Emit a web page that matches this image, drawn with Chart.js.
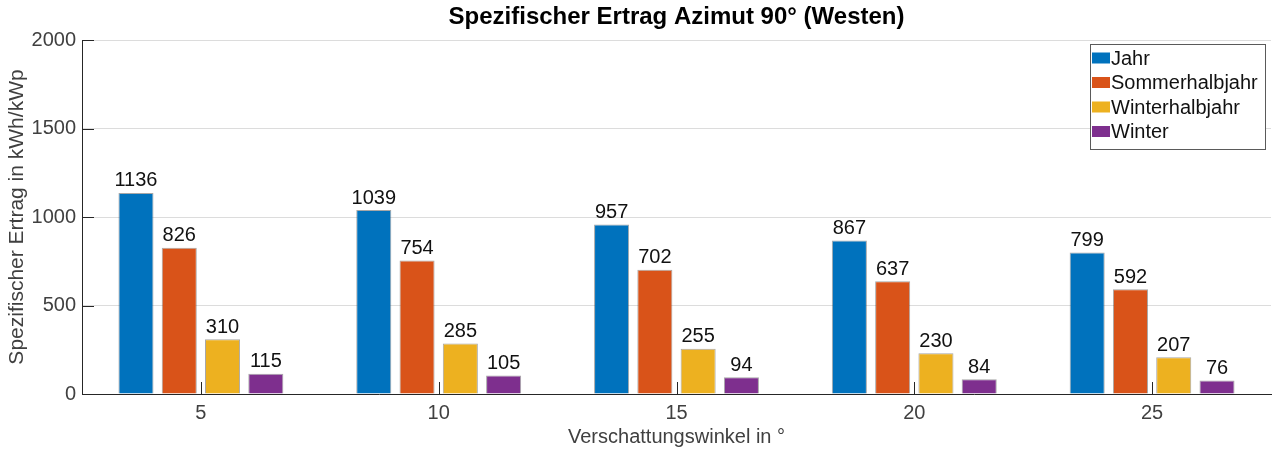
<!DOCTYPE html>
<html>
<head>
<meta charset="utf-8">
<script src="https://cdn.jsdelivr.net/npm/chart.js@4.4.1/dist/chart.umd.min.js"></script>
<style>
  html, body { margin: 0; padding: 0; background: #fff; }
  #wrap { width: 1274px; height: 450px; }
</style>
</head>
<body>
<div id="wrap"><canvas id="cht" width="1274" height="450"></canvas></div>
<script>
// data
const categories = ['5', '10', '15', '20', '25'];
const jahr = [1136, 1039, 957, 867, 799];
const sommerhalbjahr = [826, 754, 702, 637, 592];
const winterhalbjahr = [310, 285, 255, 230, 207];
const winter = [115, 105, 94, 84, 76];
const yTicks = [0, 500, 1000, 1500, 2000];

const seriesNames = ['Jahr', 'Sommerhalbjahr', 'Winterhalbjahr', 'Winter'];
const barColors = ['#0072BD', '#D95319', '#EDB120', '#7E2F8E'];

const FONT = "'Liberation Sans', Arial, Helvetica, sans-serif";
const AXIS_COL = '#262626';

// short inward tick marks like matlab
const innerTicks = {
  id: 'innerTicks',
  beforeDatasetsDraw(chart) {
    const ctx = chart.ctx;
    const x = chart.scales.x, y = chart.scales.y;
    ctx.save();
    ctx.strokeStyle = AXIS_COL;
    ctx.lineWidth = 1;
    ctx.beginPath();
    yTicks.forEach(v => {
      const py = Math.round(y.getPixelForValue(v)) + 0.5;
      ctx.moveTo(x.left, py);
      ctx.lineTo(x.left + 12, py);
    });
    categories.forEach((c, i) => {
      const px = Math.round(x.getPixelForValue(i)) + 0.5;
      ctx.moveTo(px, y.bottom);
      ctx.lineTo(px, y.bottom - 12);
    });
    ctx.stroke();
    ctx.restore();
  }
};

// numbers above each bar
const barValues = {
  id: 'barValues',
  afterDatasetsDraw(chart) {
    const ctx = chart.ctx;
    ctx.save();
    ctx.font = '20px ' + FONT;
    ctx.fillStyle = '#111';
    ctx.textAlign = 'center';
    ctx.textBaseline = 'bottom';
    chart.data.datasets.forEach((ds, di) => {
      chart.getDatasetMeta(di).data.forEach((bar, i) => {
        ctx.fillText(String(ds.data[i]), bar.x, bar.y - 2);
      });
    });
    ctx.restore();
  }
};

// legend box inside the top right corner
const boxLegend = {
  id: 'boxLegend',
  afterDraw(chart) {
    const ctx = chart.ctx;
    const area = chart.chartArea;
    const right = area.right - 5, top = area.top + 4;
    const w = 176, h = 106;
    const left = right - w;
    ctx.save();
    ctx.fillStyle = '#fff';
    ctx.fillRect(left, top, w, h);
    ctx.strokeStyle = '#5a5a5a';
    ctx.lineWidth = 1;
    ctx.strokeRect(left + 0.5, top + 0.5, w - 1, h - 1);
    ctx.font = '20px ' + FONT;
    ctx.textAlign = 'left';
    ctx.textBaseline = 'middle';
    chart.data.datasets.forEach((ds, i) => {
      const cy = top + 14 + i * 24.5;
      ctx.fillStyle = ds.backgroundColor;
      ctx.fillRect(left + 2, cy - 5.5, 18, 11);
      ctx.fillStyle = '#111';
      ctx.fillText(ds.label, left + 21, cy + 1);
    });
    ctx.restore();
  }
};

const allSeries = [jahr, sommerhalbjahr, winterhalbjahr, winter];

const ch = new Chart('cht', {
  type: 'bar',
  data: {
    labels: categories,
    datasets: allSeries.map((vals, i) => ({
      label: seriesNames[i],
      data: vals,
      backgroundColor: barColors[i],
      borderColor: 'rgba(60,60,60,0.45)',
      borderWidth: 1,
      categoryPercentage: 0.728,
      barPercentage: 0.81
    }))
  },
  options: {
    responsive: false,
    animation: false,
    layout: { padding: { left: 0, right: 3, top: 0, bottom: 0 } },
    plugins: {
      legend: { display: false },
      tooltip: { enabled: false },
      title: {
        display: true,
        fullSize: false,
        text: 'Spezifischer Ertrag Azimut 90° (Westen)',
        color: '#000',
        font: { family: FONT, size: 24, weight: 'bold', lineHeight: 1.2 },
        padding: { top: 3, bottom: 8.2 }
      }
    },
    scales: {
      x: {
        grid: { display: false, drawTicks: false },
        border: { display: true, color: AXIS_COL, width: 1 },
        ticks: { color: '#404040', font: { family: FONT, size: 20 }, padding: 7, maxRotation: 0 },
        title: {
          display: true,
          text: 'Verschattungswinkel in °',
          color: '#404040',
          font: { family: FONT, size: 20, lineHeight: 1.2 },
          padding: { top: 0, bottom: 1 }
        },
        afterFit(scale) { scale.height = 56; }
      },
      y: {
        min: 0,
        max: 2000,
        afterBuildTicks(scale) { scale.ticks = yTicks.map(v => ({ value: v })); },
        grid: { color: '#dcdcdc', lineWidth: 1, drawTicks: false },
        border: { display: true, color: AXIS_COL, width: 1 },
        ticks: {
          color: '#404040',
          font: { family: FONT, size: 20 },
          padding: 6,
          callback: v => String(v)
        },
        title: {
          display: true,
          text: 'Spezifischer Ertrag in kWh/kWp',
          color: '#404040',
          font: { family: FONT, size: 21, lineHeight: 1.2 },
          padding: { top: 5, bottom: 0 }
        },
        afterFit(scale) { scale.width = 82; }
      }
    }
  },
  plugins: [innerTicks, barValues, boxLegend]
});
</script>
</body>
</html>
